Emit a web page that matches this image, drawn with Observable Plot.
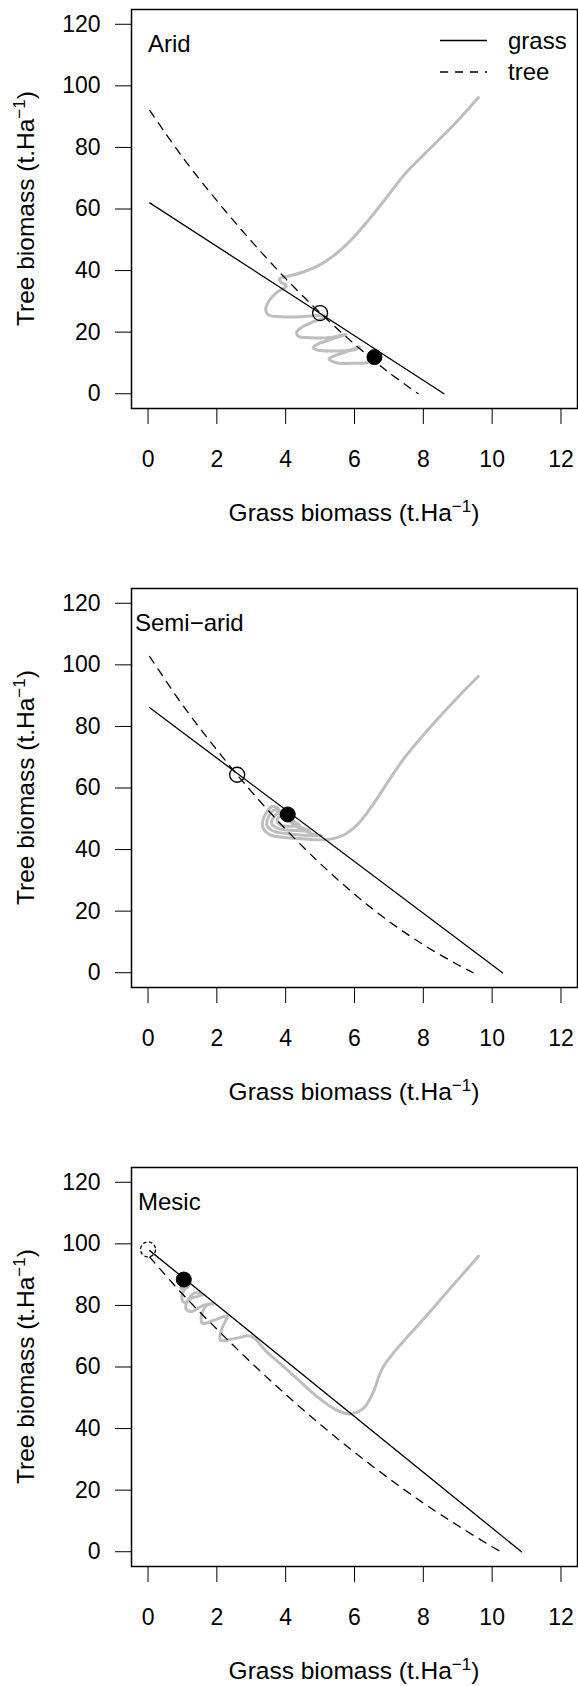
<!DOCTYPE html>
<html><head><meta charset="utf-8">
<script src="https://cdn.jsdelivr.net/npm/d3@7"></script>
<script src="https://cdn.jsdelivr.net/npm/@observablehq/plot@0.6"></script>
<style>
html,body{margin:0;padding:0;background:#fff;}
#root{position:relative;width:578px;height:1686px;overflow:hidden;background:#fff;}
.panel{position:absolute;left:0;width:578px;height:528px;}
</style></head>
<body><div id="root"></div>
<script>
// ---- data ----
const xTicks = [0, 2, 4, 6, 8, 10, 12];
const yTicks = [0, 20, 40, 60, 80, 100, 120];
const panelNames = ["Arid", "Semi\u2212arid", "Mesic"];
const legendLabels = ["grass", "tree"];

// Arid
const aridGrassX = [0.05, 8.6];
const aridGrassY = [62, 0];
const aridTreeX = [0.05, 1, 2, 3, 4, 5, 6, 7, 7.85];
const aridTreeY = [92, 76.9, 62.7, 49.6, 37.4, 26.3, 16.1, 6.9, 0];
const aridTrajX = [9.6, 8.9, 8.0, 7.45, 6.95, 6.45, 5.95, 5.45, 4.95, 4.45, 4.0, 3.82, 3.86, 4.02, 3.75, 3.52, 3.42, 3.5, 3.85, 4.45, 5.0, 5.2, 4.85, 4.5, 4.32, 4.38, 4.7, 5.3, 5.76, 5.3, 4.95, 4.8, 4.95, 5.5, 6.0, 6.15, 5.7, 5.4, 5.26, 5.5, 6.0, 6.4, 6.58];
const aridTrajY = [96.2, 87.5, 77.5, 71.2, 64, 57, 50.5, 45.3, 41.6, 39.3, 38.0, 37.3, 36.3, 35.0, 33.0, 30.2, 27.5, 25.6, 25.0, 25.0, 25.4, 25.0, 23.6, 21.8, 20.0, 18.6, 18.2, 18.3, 19.3, 17.6, 16.2, 15.0, 14.1, 13.9, 14.3, 15.3, 13.4, 12.2, 11.2, 10.0, 9.9, 10.2, 11.9];
const aridUnstable = [5.0, 26.2];
const aridStable = [6.58, 11.9];

// Semi-arid
const semiGrassX = [0.05, 10.3];
const semiGrassY = [86.1, 0];
const semiTreeX = [0.05, 1, 2, 3, 4, 5, 6, 7, 8, 9, 9.45];
const semiTreeY = [102.7, 87.0, 72.4, 58.9, 46.6, 35.5, 25.5, 16.7, 9.1, 2.6, 0];
const semiTrajX = [9.6, 8.5, 7.5, 7.0, 6.5, 6.1, 5.7, 5.3, 4.9, 4.4, 3.9, 3.55, 3.35, 3.33, 3.45, 3.6, 3.75, 3.95, 4.3, 4.75, 5.05, 4.6, 4.0, 3.6, 3.45, 3.5, 3.65, 3.8, 4.0, 4.35, 4.7, 4.3, 3.8, 3.6, 3.65, 3.85, 4.05, 4.4, 4.2, 3.85, 3.75, 3.85, 4.06];
const semiTrajY = [96.3, 83.5, 70.5, 62.5, 54.0, 48.3, 44.8, 43.4, 43.2, 43.6, 44.0, 44.8, 46.8, 49.2, 52.2, 54.0, 53.6, 51.0, 47.6, 45.2, 44.5, 44.6, 45.2, 46.2, 48.0, 50.5, 52.8, 52.5, 50.5, 47.6, 46.0, 46.2, 46.8, 48.3, 50.5, 52.0, 50.3, 48.0, 47.6, 48.0, 49.5, 51.0, 51.4];
const semiUnstable = [2.59, 64.3];
const semiStable = [4.06, 51.4];

// Mesic
const mesicGrassX = [0.05, 10.85];
const mesicGrassY = [97.8, 0];
const mesicTreeX = [0.05, 1, 2, 3, 4, 5, 6, 7, 8, 9, 10, 10.25];
const mesicTreeY = [95.7, 83.7, 72.3, 61.4, 51.1, 41.4, 32.3, 23.8, 15.8, 8.5, 1.6, 0];
const mesicTrajX = [9.6, 8.2, 6.85, 6.55, 6.3, 6.05, 5.8, 5.4, 4.9, 4.4, 3.9, 3.4, 3.0, 2.55, 2.1, 2.15, 2.3, 1.95, 1.58, 1.55, 1.7, 1.9, 1.6, 1.25, 1.1, 1.15, 1.35, 1.6, 1.3, 1.05, 0.98, 1.05, 1.2, 1.0, 0.95, 1.04];
const mesicTrajY = [96, 78, 60.3, 52, 47, 45.2, 44.8, 46.5, 50.5, 55.5, 60.5, 65.5, 70.0, 69.3, 68.7, 72.5, 76.5, 75.3, 74.2, 76.5, 80.0, 80.6, 80.0, 78.0, 79.0, 81.5, 84.0, 83.5, 82.5, 81.0, 82.5, 85.0, 86.5, 85.3, 86.5, 88.4];
const mesicUnstable = [0.0, 98.2];
const mesicStable = [1.04, 88.4];

// ---- helpers ----
const FONT = '"Liberation Sans", Arial, Helvetica, sans-serif';
const FS = 23;       // tick labels
const FT = 24;       // panel names, legend
const FTITLE = 24.5; // axis titles
const pts = (xs, ys) => xs.map((x, i) => ({x, y: ys[i]}));

const panels = [
  {name: panelNames[0], top: 0, labelDx: 16.5, grass: pts(aridGrassX, aridGrassY), tree: pts(aridTreeX, aridTreeY),
   traj: pts(aridTrajX, aridTrajY), unstable: aridUnstable, stable: aridStable, legend: true, openDash: null},
  {name: panelNames[1], top: 579, labelDx: 3.5, grass: pts(semiGrassX, semiGrassY), tree: pts(semiTreeX, semiTreeY),
   traj: pts(semiTrajX, semiTrajY), unstable: semiUnstable, stable: semiStable, legend: false, openDash: null},
  {name: panelNames[2], top: 1158, labelDx: 6.5, grass: pts(mesicGrassX, mesicGrassY), tree: pts(mesicTreeX, mesicTreeY),
   traj: pts(mesicTrajX, mesicTrajY), unstable: mesicUnstable, stable: mesicStable, legend: false, openDash: "3.5,2.5"}
];

const root = document.getElementById("root");

function addTitle(sel, parts) {
  sel.append("tspan").text(parts[0]);
  sel.append("tspan").attr("dy", -9.5).attr("font-size", 17).text(parts[1]);
  sel.append("tspan").attr("dy", 9.5).text(parts[2]);
}

for (const p of panels) {
  const plot = Plot.plot({
    width: 578, height: 528,
    marginLeft: 131, marginRight: 1, marginTop: 9, marginBottom: 120,
    style: {fontFamily: FONT, fontSize: FS + "px", background: "white", color: "black", overflow: "visible"},
    x: {domain: [-0.48, 12.48]},
    y: {domain: [-4.8, 124.8]},
    marks: [
      Plot.line(p.traj, {x: "x", y: "y", stroke: "#BEBEBE", strokeWidth: 3, curve: "catmull-rom", strokeLinejoin: "round"}),
      Plot.line(p.grass, {x: "x", y: "y", stroke: "black", strokeWidth: 1.3}),
      Plot.line(p.tree, {x: "x", y: "y", stroke: "black", strokeWidth: 1.3, strokeDasharray: "8,7", curve: "catmull-rom"}),
      Plot.dot([p.unstable], {x: d => d[0], y: d => d[1], r: 7.5, stroke: "black", strokeWidth: 1.3, fill: "none",
        strokeDasharray: p.openDash || undefined}),
      Plot.dot([p.stable], {x: d => d[0], y: d => d[1], r: 7.5, fill: "black", stroke: "black", strokeWidth: 1}),
      Plot.frame({stroke: "black", strokeWidth: 1.5}),
      Plot.axisX({ticks: xTicks, tickSize: 16, tickPadding: 26, label: null, tickFormat: d => String(d), fontSize: FS, stroke: "black"}),
      Plot.axisY({ticks: yTicks, tickSize: 16, tickPadding: 15, label: null, tickFormat: d => String(d), fontSize: FS, stroke: "black"}),
      Plot.text([p.name], {text: d => d, frameAnchor: "top-left", dx: p.labelDx, dy: 35, textAnchor: "start", lineAnchor: "middle", fontSize: FT, fill: "black"})
    ]
  });
  const div = document.createElement("div");
  div.className = "panel";
  div.style.top = p.top + "px";
  div.appendChild(plot);
  root.appendChild(div);

  const svg = d3.select(plot);
  const xt = svg.append("text").attr("x", 354).attr("y", 521).attr("text-anchor", "middle")
    .attr("font-family", FONT).attr("font-size", FTITLE).attr("fill", "black");
  addTitle(xt, ["Grass biomass (t.Ha", "\u22121", ")"]);
  const yt = svg.append("text").attr("transform", "translate(34,208.6) rotate(-90)").attr("text-anchor", "middle")
    .attr("font-family", FONT).attr("font-size", FTITLE).attr("fill", "black");
  addTitle(yt, ["Tree biomass (t.Ha", "\u22121", ")"]);

  if (p.legend) {
    const g = svg.append("g").attr("font-family", FONT).attr("font-size", FT).attr("fill", "black").attr("text-anchor", "start");
    const rows = [40.5, 72];
    legendLabels.forEach((lab, i) => {
      g.append("line").attr("x1", 440).attr("x2", 487).attr("y1", rows[i]).attr("y2", rows[i])
        .attr("stroke", "black").attr("stroke-width", 1.6).attr("stroke-dasharray", i === 1 ? "8,7" : null);
      g.append("text").attr("x", 508).attr("y", rows[i]).attr("dy", "0.35em").attr("text-anchor", "start").text(lab);
    });
  }
}
</script>
</body></html>
